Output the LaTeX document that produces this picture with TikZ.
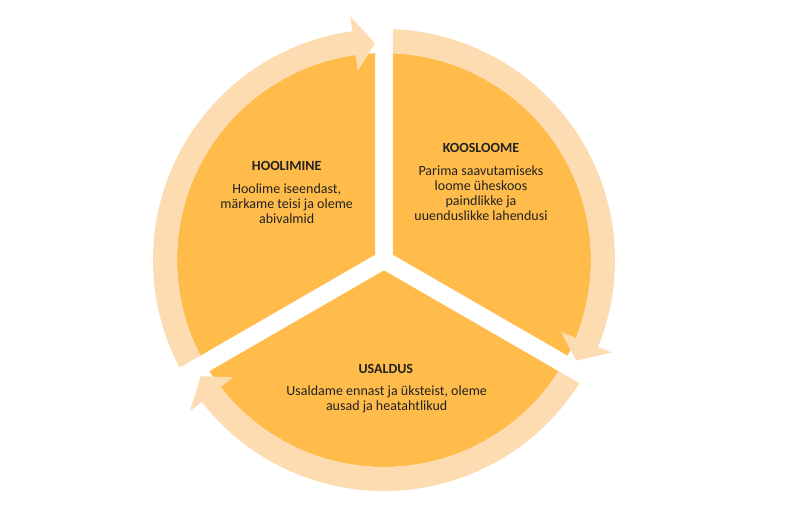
\documentclass[tikz,border=0pt]{standalone}
\usepackage{fontspec}
\setmainfont{Carlito}
\definecolor{goldfill}{HTML}{FFBC4B}
\definecolor{peachring}{HTML}{FEDCB2}
\definecolor{textgray}{HTML}{222222}

\begin{document}
\begin{tikzpicture}[x=1pt,y=1pt,
  title/.style={font=\fontsize{14}{15}\selectfont\bfseries, text=textgray, inner sep=0pt},
  body/.style={font=\fontsize{14}{15}\selectfont, text=textgray, align=center, inner sep=0pt}]
\useasboundingbox[fill=white] (-384,-260) rectangle (416,260);
% three wedges
\draw[draw=none, fill=goldfill] (150:10.392) -- ({90+asin(9/207)}:207) arc[start angle={90+asin(9/207)}, end angle={210-asin(9/207)}, radius=207] -- cycle;
\draw[draw=none, fill=goldfill] (30:10.392) -- ({90-asin(9/207)}:207) arc[start angle={90-asin(9/207)}, end angle={-30+asin(9/207)}, radius=207] -- cycle;
\draw[draw=none, fill=goldfill] (-90:10.392) -- ({-30-asin(9/207)}:207) arc[start angle={-30-asin(9/207)}, end angle={-150+asin(9/207)}, radius=207] -- cycle;
% ring arrows, clockwise
\draw[draw=none, fill=peachring] ({210-asin(9/231)}:231) arc[start angle={210-asin(9/231)}, end angle=97.9, radius=231] -- (97.9:246) -- ({90+asin(9/217)}:217) -- (97.9:191) -- (97.9:207) arc[start angle=97.9, end angle={210-asin(9/207)}, radius=207] -- cycle;
\draw[draw=none, fill=peachring] ({90-asin(9/231)}:231) arc[start angle={90-asin(9/231)}, end angle=-22.1, radius=231] -- (-22.1:246) -- ({-30+asin(9/217)}:217) -- (-22.1:191) -- (-22.1:207) arc[start angle=-22.1, end angle={90-asin(9/207)}, radius=207] -- cycle;
\draw[draw=none, fill=peachring] ({-30-asin(9/231)}:231) arc[start angle={-30-asin(9/231)}, end angle=-142.1, radius=231] -- (-142.1:246) -- ({-150+asin(9/217)}:217) -- (-142.1:191) -- (-142.1:207) arc[start angle=-142.1, end angle={-30-asin(9/207)}, radius=207] -- cycle;
% labels
\node[title] (hoolimine) at (-97.3,94) {HOOLIMINE};
\node[body] (hoolimine text) at (-97.3,56.5) {Hoolime iseendast,\\märkame teisi ja oleme\\abivalmid};
\node[title] (koosloome) at (97,112) {KOOSLOOME};
\node[body] (koosloome text) at (97,67) {Parima saavutamiseks\\loome üheskoos\\paindlikke ja\\uuenduslikke lahendusi};
\node[title] (usaldus) at (1.8,-109) {USALDUS};
\node[body] (usaldus text) at (2.7,-139) {Usaldame ennast ja üksteist, oleme\\ausad ja heatahtlikud};
\end{tikzpicture}
\end{document}
